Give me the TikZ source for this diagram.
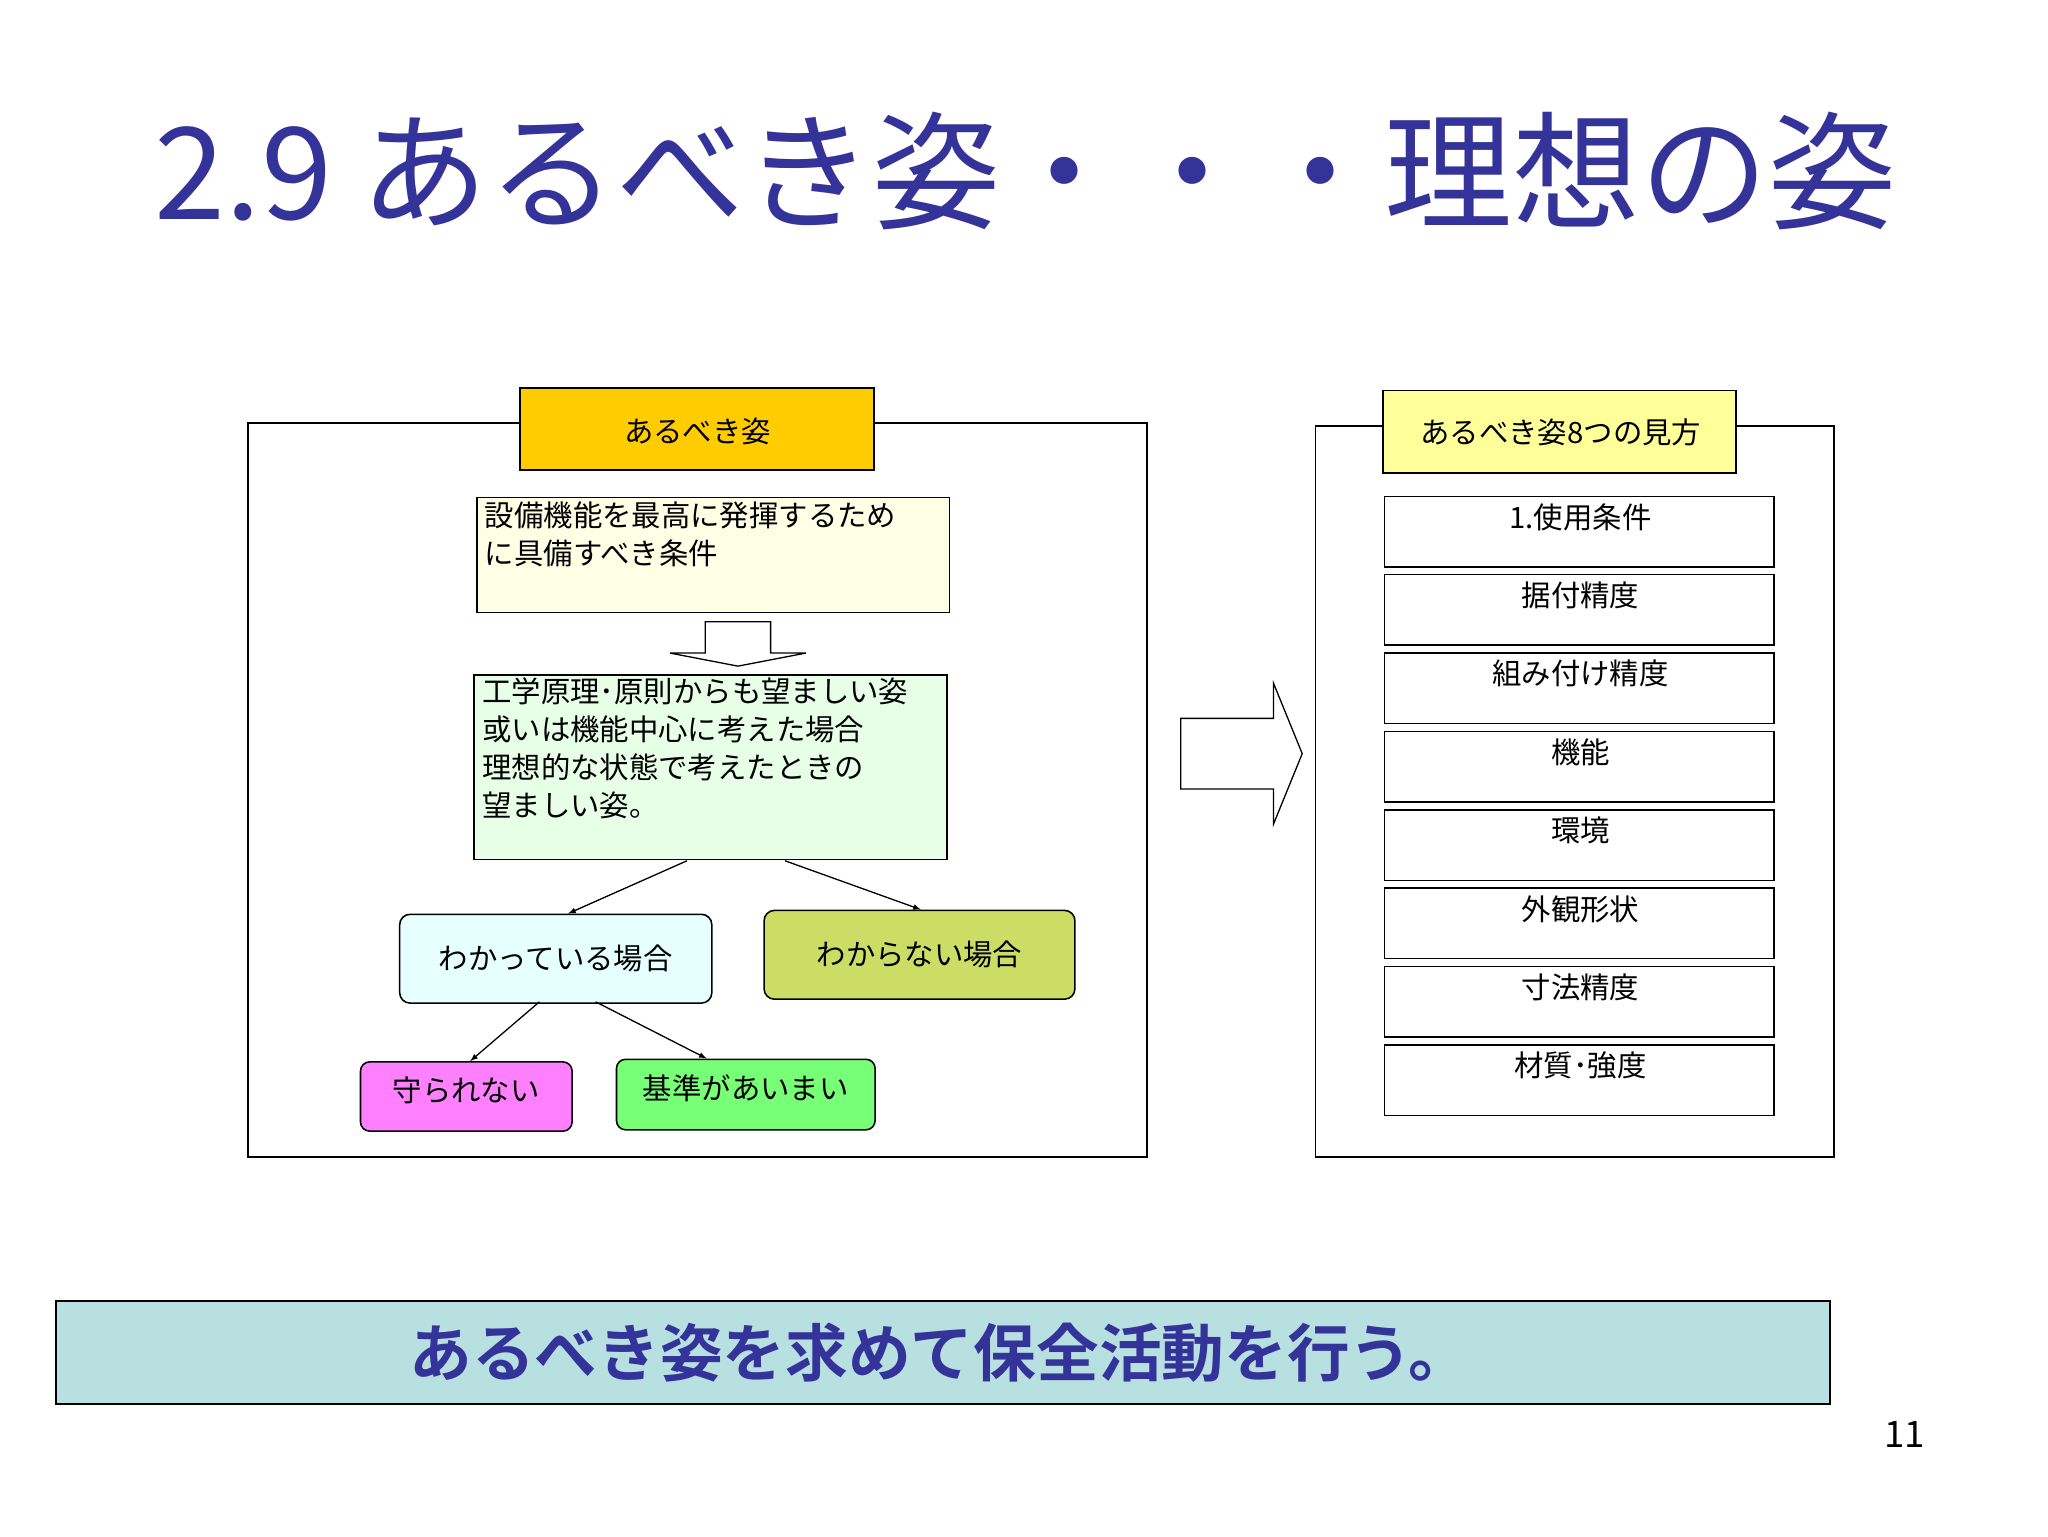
\documentclass[tikz,border=0pt]{standalone}
\usepackage{fontspec}
\setmainfont{Noto Sans CJK JP}[BoldFont={Noto Sans CJK JP Bold}]
\definecolor{tblue}{RGB}{51,51,153}
\begin{document}
\begin{tikzpicture}[x=1pt,y=-1pt,
  box/.style={draw,line width=1.2pt},
  lbl/.style={font=\fontsize{22.5}{29}\selectfont},
  arr/.style={-latex,line width=1pt}]
\useasboundingbox (0,0) rectangle (1568,1176);
\fill[white] (0,0) rectangle (1568,1176);
\node[anchor=base west,text=tblue,font=\fontsize{98}{104}\selectfont,inner sep=0] (title) at (118,168) {2.9 あるべき姿・・・理想の姿};
% left frame
\draw[box] (190,324) rectangle (878,886);
\draw[box,fill={rgb,255:red,255;green,204;blue,0}] (398,297) rectangle (669,360);
\node[lbl] (h1) at (534,330) {あるべき姿};
\draw[box,fill={rgb,255:red,255;green,255;blue,230}] (365,381) rectangle (727,469);
\node[lbl,anchor=north west,align=left,inner sep=0] (t1) at (371,384) {設備機能を最高に発揮するため\\に具備すべき条件};
\draw[line width=1pt,fill=white] (540,476) -- (590,476) -- (590,500) -- (617,500) -- (565,510) -- (513,500) -- (540,500) -- cycle;
\draw[box,fill={rgb,255:red,230;green,255;blue,230}] (363,517) rectangle (725,658);
\node[lbl,anchor=north west,align=left,inner sep=0] (t2) at (369,519) {工学原理･原則からも望ましい姿\\或いは機能中心に考えた場合\\理想的な状態で考えたときの\\望ましい姿。};
\coordinate (b2a) at (526,659); \coordinate (b2b) at (601,659);
\node[lbl,draw,rounded corners=8pt,line width=1.2pt,fill={rgb,255:red,230;green,255;blue,255},minimum width=239pt,minimum height=68pt] (k1) at (425.5,734) {わかっている場合};
\node[lbl,draw,rounded corners=8pt,line width=1.2pt,fill={rgb,255:red,204;green,221;blue,102},minimum width=238pt,minimum height=68pt] (k2) at (704,731) {わからない場合};
\node[lbl,draw,rounded corners=7pt,line width=1.2pt,fill={rgb,255:red,255;green,128;blue,255},minimum width=162pt,minimum height=53pt,text depth=12pt] (m1) at (357,839.5) {守られない};
\node[lbl,draw,rounded corners=7pt,line width=1.2pt,fill={rgb,255:red,119;green,255;blue,119},minimum width=198pt,minimum height=54pt,text depth=12pt] (m2) at (571,838) {基準があいまい};
\draw[arr] (b2a) -- (k1.north -| 435,0);
\draw[arr] (b2b) -- (k2.north -| 705,0);
\coordinate (k1a) at (413,767); \coordinate (k1b) at (456,767);
\draw[arr] (k1a) -- (m1.north -| 360,0);
\draw[arr] (k1b) -- (m2.north -| 541,0);
% big arrow
\draw[line width=1pt,fill=white] (904,550) -- (975,550) -- (975,523) -- (997,577) -- (975,631) -- (975,604) -- (904,604) -- cycle;
% right frame
\draw[box] (1007,326) rectangle (1404,886);
\draw[box,fill={rgb,255:red,255;green,255;blue,153}] (1059,299) rectangle (1329,362);
\node[lbl] (h2) at (1195,331) {あるべき姿8つの見方};
\foreach \t [count=\i from 0] in {1.使用条件,据付精度,組み付け精度,機能,環境,外観形状,寸法精度,材質･強度}{
  \draw[box] (1060,380+60*\i) rectangle (1358,434+60*\i);
  \node[lbl,anchor=north] (r\i) at (1210,382+60*\i) {\t};
}
% banner
\draw[box,fill={rgb,255:red,184;green,224;blue,224}] (43,996) rectangle (1401,1075);
\node[text=tblue,font=\bfseries\fontsize{48}{54}\selectfont] (ban) at (720,1036) {あるべき姿を求めて保全活動を行う。};
\node[font=\fontsize{28}{30}\selectfont] (pg) at (1458,1098) {11};
\end{tikzpicture}
\end{document}
